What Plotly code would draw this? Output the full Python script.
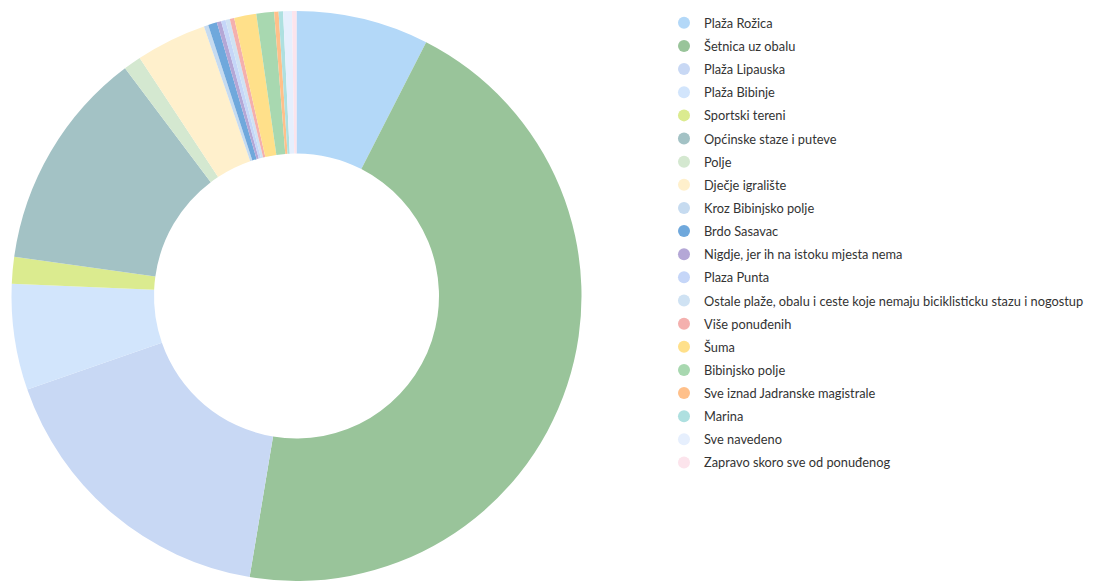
import plotly.graph_objects as go

labels = [
    "Plaža Rožica",
    "Šetnica uz obalu",
    "Plaža Lipauska",
    "Plaža Bibinje",
    "Sportski tereni",
    "Općinske staze i puteve",
    "Polje",
    "Dječje igralište",
    "Kroz Bibinjsko polje",
    "Brdo Sasavac",
    "Nigdje, jer ih na istoku mjesta nema",
    "Plaza Punta",
    "Ostale plaže, obalu i ceste koje nemaju biciklisticku stazu i nogostup",
    "Više ponuđenih",
    "Šuma",
    "Bibinjsko polje",
    "Sve iznad Jadranske magistrale",
    "Marina",
    "Sve navedeno",
    "Zapravo skoro sve od ponuđenog",
]
values = [30, 180, 68, 24, 6, 50, 4, 16, 1, 2, 1, 1, 1, 1, 5, 4, 1, 1, 2, 1]
colors = [
    "#b3d8f8", "#99c49a", "#c8d8f4", "#d2e5fc", "#dbeb8f",
    "#a3c2c5", "#d4e8d0", "#fff0cc", "#c6dbf0", "#6fa8dc",
    "#b4a7d6", "#c5d6f8", "#cfe2f3", "#f4b0ae", "#ffe08a",
    "#a8d8b0", "#ffc08a", "#aee0e0", "#e6effd", "#fce4ec",
]

fig = go.Figure()
fig.add_trace(go.Pie(
    labels=labels, values=values,
    marker=dict(colors=colors, line=dict(width=0)),
    hole=0.5, sort=False, direction="clockwise", rotation=0,
    textinfo="none", showlegend=False,
    domain=dict(x=[0.0032, 0.5286], y=[0.0, 0.9948]),
))
for lab, col in zip(labels, colors):
    fig.add_trace(go.Scatter(
        x=[None], y=[None], mode="markers", name=lab,
        marker=dict(symbol="circle", size=12, color=col),
        legendgroup=lab, showlegend=True,
    ))

fig.update_layout(
    width=1085, height=573,
    margin=dict(l=0, r=0, t=0, b=0),
    paper_bgcolor="white", plot_bgcolor="white",
    xaxis=dict(visible=False), yaxis=dict(visible=False),
    font=dict(family="Lato, Open Sans, sans-serif", size=12.8, color="#333333"),
    legend=dict(
        x=0.6046, xanchor="left", y=1.0, yanchor="top",
        tracegroupgap=3.5, itemclick=False,
        font=dict(size=12.8),
    ),
)
fig.write_html("out.html")
